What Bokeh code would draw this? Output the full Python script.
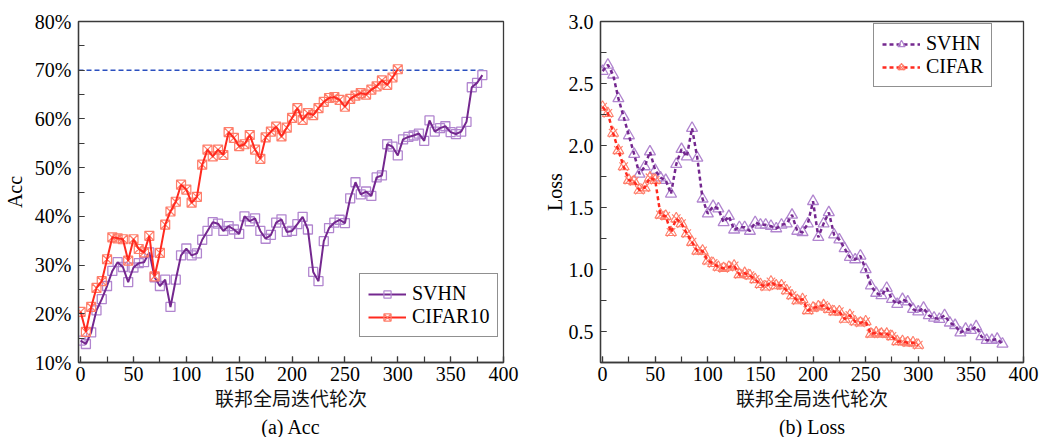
from bokeh.plotting import figure
from bokeh.models import (Range1d, SingleIntervalTicker, PrintfTickFormatter,
                          Legend, LegendItem, Title)
from bokeh.layouts import row
from bokeh.embed import file_html
from bokeh.resources import INLINE

# ---------------- data ----------------
rounds_svhn = list(range(0, 385, 5))   # 0..380
rounds_cifar = list(range(0, 305, 5))  # 0..300

acc_svhn = [14.5, 13.8, 16.2, 20.7, 23.0, 25.7, 28.8, 30.6, 29.6, 26.5,
            29.5, 30.4, 30.6, 32.6, 27.5, 25.7, 27.0, 21.4, 27.0, 32.0,
            33.4, 32.0, 32.4, 35.2, 37.0, 38.8, 38.5, 37.0, 38.0, 37.3,
            36.4, 40.0, 39.0, 39.6, 37.0, 35.4, 36.2, 38.7, 39.4, 36.8,
            37.0, 38.4, 39.9, 37.3, 28.6, 26.7, 34.9, 37.6, 38.7, 39.3,
            38.6, 43.7, 47.0, 44.5, 45.1, 44.2, 48.0, 48.4, 54.8, 54.3,
            52.5, 55.8, 56.3, 56.6, 57.0, 55.5, 59.7, 57.4, 58.1, 58.5,
            57.3, 56.9, 57.4, 59.4, 66.5, 67.4, 69.0]

acc_cifar = [20.4, 16.3, 21.4, 25.3, 26.7, 31.2, 35.7, 35.5, 35.3, 30.9,
             35.3, 33.3, 32.6, 36.0, 27.7, 32.5, 38.3, 41.0, 43.0, 46.5,
             45.5, 42.8, 44.0, 50.6, 53.7, 52.3, 53.7, 52.6, 57.3, 56.1,
             54.4, 54.8, 56.7, 53.7, 51.8, 56.2, 57.4, 58.4, 56.4, 58.2,
             60.2, 62.2, 59.8, 61.2, 60.8, 62.2, 63.5, 64.3, 64.5, 63.9,
             62.5, 64.1, 64.8, 65.3, 65.0, 66.0, 66.7, 67.9, 67.0, 68.5,
             70.2]

loss_svhn = [2.60, 2.65, 2.57, 2.38, 2.23, 2.08, 1.93, 1.77, 1.83, 1.95,
             1.80, 1.74, 1.72, 1.61, 1.85, 1.97, 1.91, 2.14, 1.90, 1.57,
             1.45, 1.51, 1.49, 1.38, 1.43, 1.32, 1.34, 1.34, 1.31, 1.38,
             1.36, 1.36, 1.35, 1.33, 1.36, 1.37, 1.44, 1.31, 1.30, 1.37,
             1.55, 1.26, 1.37, 1.46, 1.28, 1.24, 1.17, 1.10, 1.08, 1.11,
             1.00, 0.87, 0.81, 0.79, 0.85, 0.76, 0.72, 0.76, 0.74, 0.68,
             0.66, 0.69, 0.63, 0.61, 0.60, 0.63, 0.57, 0.55, 0.49, 0.52,
             0.51, 0.54, 0.46, 0.43, 0.43, 0.44, 0.40]

loss_cifar = [2.31, 2.26, 2.10, 1.96, 1.83, 1.72, 1.71, 1.64, 1.66, 1.74,
              1.72, 1.44, 1.43, 1.30, 1.41, 1.37, 1.29, 1.22, 1.15, 1.15,
              1.07, 1.05, 1.02, 1.01, 1.02, 1.03, 0.96, 0.97, 0.95, 0.92,
              0.88, 0.86, 0.90, 0.87, 0.87, 0.83, 0.79, 0.75, 0.76, 0.67,
              0.69, 0.70, 0.71, 0.68, 0.66, 0.66, 0.60, 0.63, 0.58, 0.57,
              0.58, 0.48, 0.49, 0.48, 0.48, 0.46, 0.42, 0.42, 0.41, 0.41,
              0.39]

acc_target = 70
x_ticks_interval = 50
x_label = "联邦全局迭代轮次"
cap_a = "(a) Acc"
cap_b = "(b) Loss"

# ---------------- style ----------------
SERIF = "Liberation Serif"
CJK = "Noto Sans CJK SC"
SV_LINE = "#74288f"
SV_MARK = "#b185cf"
CF_LINE = "#ff2a1f"
CF_MARK = "#ff7d6a"
TARGET = "#2a4fbf"
FRAME = "#3a3a3a"


def style(p, y_interval, y_fmt, ylabel, ylab_standoff):
    p.xgrid.visible = False
    p.ygrid.visible = False
    p.outline_line_color = FRAME
    p.outline_line_width = 1.3
    p.background_fill_color = "white"
    p.border_fill_color = "white"
    for ax in (p.xaxis[0], p.yaxis[0]):
        ax.axis_line_color = FRAME
        ax.axis_line_width = 1.3
        ax.major_tick_line_color = FRAME
        ax.minor_tick_line_color = FRAME
        ax.major_tick_line_width = 1.2
        ax.minor_tick_line_width = 1.2
        ax.major_tick_in = 6
        ax.major_tick_out = 0
        ax.minor_tick_in = 6
        ax.minor_tick_out = 0
        ax.major_label_text_font = SERIF
        ax.major_label_text_font_size = "20px"
        ax.major_label_text_color = "black"
    p.xaxis[0].ticker = SingleIntervalTicker(interval=x_ticks_interval, num_minor_ticks=2)
    p.yaxis[0].ticker = SingleIntervalTicker(interval=y_interval, num_minor_ticks=2)
    p.yaxis[0].formatter = PrintfTickFormatter(format=y_fmt)
    p.xaxis[0].major_label_standoff = 4
    p.yaxis[0].major_label_standoff = 7
    # axis titles
    p.yaxis[0].axis_label = ylabel
    p.yaxis[0].axis_label_text_font = SERIF
    p.yaxis[0].axis_label_text_font_size = "20px"
    p.yaxis[0].axis_label_text_font_style = "normal"
    p.yaxis[0].axis_label_text_color = "black"
    p.yaxis[0].axis_label_standoff = ylab_standoff
    p.xaxis[0].axis_label = x_label
    p.xaxis[0].axis_label_text_font = CJK
    p.xaxis[0].axis_label_text_font_size = "19px"
    p.xaxis[0].axis_label_text_font_style = "normal"
    p.xaxis[0].axis_label_text_color = "#111111"
    p.xaxis[0].axis_label_standoff = 0


def add_caption(p, cap):
    p.add_layout(Title(text=cap, align="center", text_font=SERIF, text_font_size="20px",
                       text_font_style="normal", text_color="black", standoff=0, offset=0),
                 "below")


def make_legend(items, loc):
    return Legend(items=items, location=loc, orientation="vertical",
                  border_line_color="#222222", border_line_width=1.2,
                  background_fill_color="white", background_fill_alpha=1.0,
                  label_text_font=SERIF, label_text_font_size="20px",
                  label_text_color="black",
                  glyph_width=38, glyph_height=18, label_height=18,
                  label_standoff=6, spacing=0, padding=8, margin=0)


H = 437
# ---------------- (a) Acc ----------------
p1 = figure(width=520, height=H, output_backend="svg", toolbar_location=None,
            x_range=Range1d(-2, 400), y_range=Range1d(10, 80),
            min_border_left=77, min_border_right=17, min_border_top=21, min_border_bottom=74)
style(p1, 10, "%d%%", "Acc", 6)

p1.line([-2, rounds_svhn[-1] + 2], [acc_target, acc_target], line_color=TARGET,
        line_width=1.6, line_dash="5 3")

m1 = p1.scatter(rounds_svhn, acc_svhn, marker="square", size=9, fill_color=None,
                line_color=SV_MARK, line_width=1.3)
l1 = p1.line(rounds_svhn, acc_svhn, line_color=SV_LINE, line_width=2)
m2 = p1.scatter(rounds_cifar, acc_cifar, marker="square_x", size=9, fill_color=None,
                line_color=CF_MARK, line_width=1.2)
l2 = p1.line(rounds_cifar, acc_cifar, line_color=CF_LINE, line_width=2)

g1 = p1.scatter([-100], [-100], marker="square", size=7, fill_color=None, line_color=SV_MARK, line_width=1.2)
g2 = p1.scatter([-100], [-100], marker="square_x", size=7, fill_color=None, line_color=CF_MARK, line_width=1.2)
p1.add_layout(make_legend([LegendItem(label="SVHN", renderers=[l1, g1]),
                           LegendItem(label="CIFAR10", renderers=[l2, g2])], (281, 25)))
add_caption(p1, cap_a)

# ---------------- (b) Loss ----------------
p2 = figure(width=520, height=H, output_backend="svg", toolbar_location=None,
            x_range=Range1d(-2, 400), y_range=Range1d(0.25, 3.0),
            min_border_left=80, min_border_right=17, min_border_top=21, min_border_bottom=74)
style(p2, 0.5, "%.1f", "Loss", 0)

n1 = p2.scatter(rounds_svhn, loss_svhn, marker="triangle", size=11, fill_color=None,
                line_color=SV_MARK, line_width=1.3)
k1 = p2.line(rounds_svhn, loss_svhn, line_color=SV_LINE, line_width=2.5, line_dash="4 3")
n2 = p2.scatter(rounds_cifar, loss_cifar, marker="triangle", size=11, fill_color=None,
                line_color=CF_MARK, line_width=1.1)
n3 = p2.scatter(rounds_cifar, loss_cifar, marker="x", size=12, fill_color=None,
                line_color=CF_MARK, line_width=1.1)
k2 = p2.line(rounds_cifar, loss_cifar, line_color=CF_LINE, line_width=2.5, line_dash="4 3")

h1 = p2.scatter([-100], [-100], marker="triangle", size=9, fill_color=None, line_color=SV_MARK, line_width=1.2)
h2 = p2.scatter([-100], [-100], marker="triangle", size=9, fill_color=None, line_color=CF_MARK, line_width=1.1)
h3 = p2.scatter([-100], [-100], marker="x", size=10, fill_color=None, line_color=CF_MARK, line_width=1.1)
p2.add_layout(make_legend([LegendItem(label="SVHN", renderers=[k1, h1]),
                           LegendItem(label="CIFAR", renderers=[k2, h2, h3])], (273, 275)))
add_caption(p2, cap_b)

layout = row(p1, p2)
open("out.html", "w").write(file_html(layout, INLINE))
